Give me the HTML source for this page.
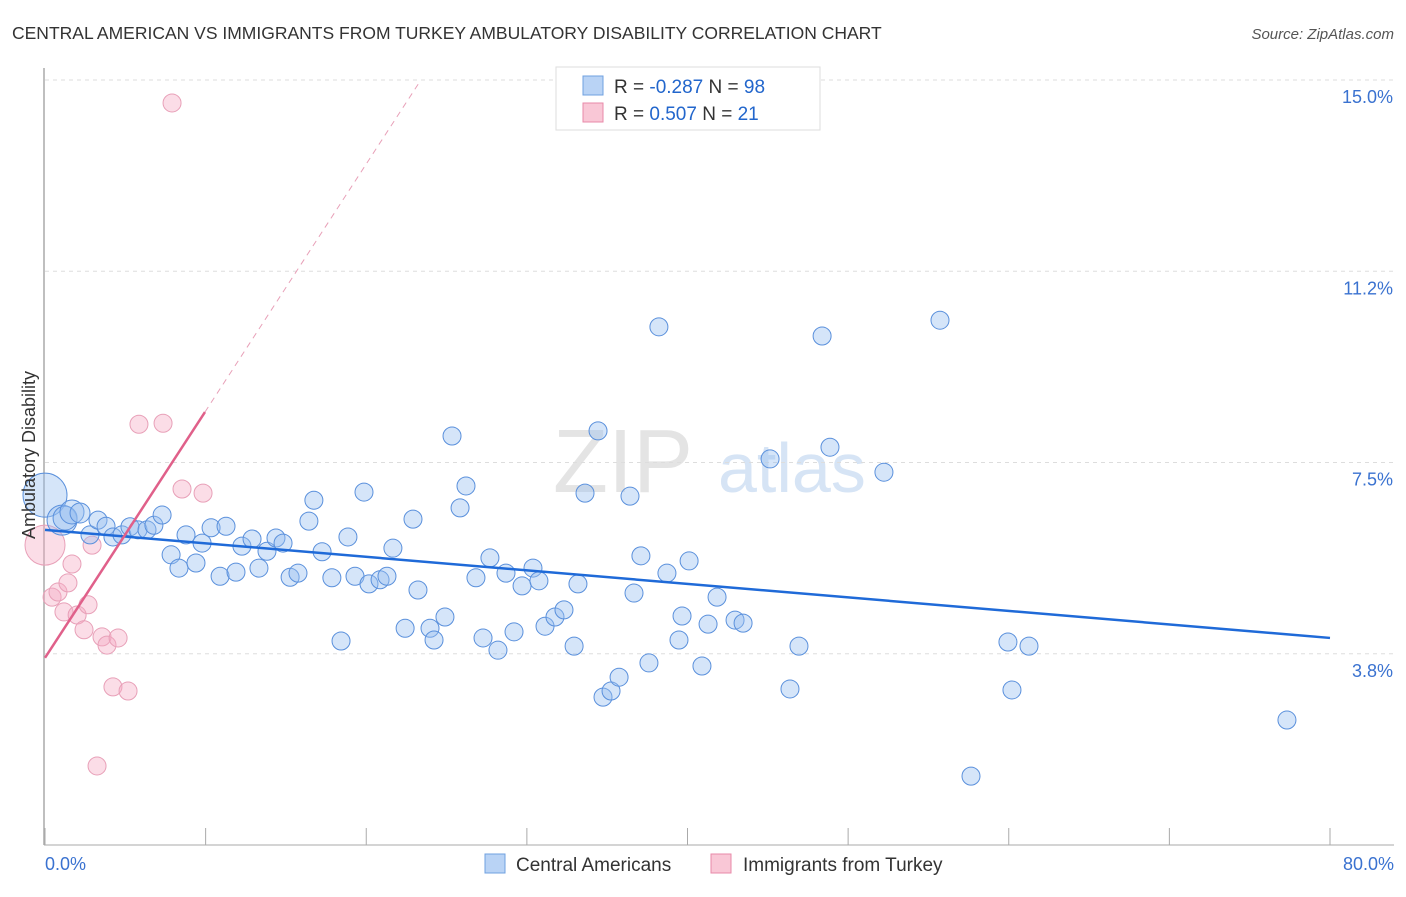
<!DOCTYPE html>
<html><head><meta charset="utf-8"><style>
body{margin:0;background:#fff;font-family:"Liberation Sans",sans-serif;}
svg text{font-family:"Liberation Sans",sans-serif;}
</style></head><body>
<svg id="c" width="1406" height="892">
<text x="12" y="39" font-size="17.5" fill="#333">CENTRAL AMERICAN VS IMMIGRANTS FROM TURKEY AMBULATORY DISABILITY CORRELATION CHART</text>
<text x="1394" y="39" font-size="15" fill="#555" font-style="italic" text-anchor="end">Source: ZipAtlas.com</text>
<g><text x="553" y="492" font-size="90" fill="#e4e4e4" font-family="Liberation Serif">ZIP</text><text x="718" y="492" font-size="70" fill="#d6e4f5">atlas</text></g>
<g id="grid"></g><g id="axes"></g><g id="marks"></g>
<text transform="translate(35,455) rotate(-90)" font-size="18" fill="#333" text-anchor="middle">Ambulatory Disability</text>
<g>
<rect x="556" y="67" width="264" height="63" fill="#fff" stroke="#ddd"/>
<rect x="583" y="76" width="20" height="19" fill="#b9d3f5" stroke="#6fa0e0"/>
<rect x="583" y="103" width="20" height="19" fill="#f9c7d6" stroke="#e88aa8"/>
<text x="614" y="93" font-size="19" fill="#333">R = <tspan fill="#2266cc">-0.287</tspan>   N = <tspan fill="#2266cc">98</tspan></text>
<text x="614" y="120" font-size="19" fill="#333">R =  <tspan fill="#2266cc"> 0.507</tspan>   N =  <tspan fill="#2266cc">21</tspan></text>
</g>
<g>
<rect x="485" y="854" width="20" height="19" fill="#b9d3f5" stroke="#6fa0e0"/>
<text x="516" y="871" font-size="19" fill="#333">Central Americans</text>
<rect x="711" y="854" width="20" height="19" fill="#f9c7d6" stroke="#e88aa8"/>
<text x="743" y="871" font-size="19" fill="#333">Immigrants from Turkey</text>
</g>
</svg>
<script>
const yTicks=[3.75,7.5,11.25,15];
const yTickLabels=["3.8%","7.5%","11.2%","15.0%"];
const xTicks=[0,10,20,30,40,50,60,70,80];
const xTickLabels=["0.0%","80.0%"];
const blueX=[0,1.06,1.25,1.68,2.18,2.8,3.3,3.8,4.23,4.79,5.29,5.79,6.35,6.78,7.29,7.85,8.34,8.78,9.4,9.78,10.34,10.9,11.27,11.89,12.26,12.89,13.32,13.82,14.38,14.82,15.26,15.75,16.43,16.74,17.25,17.86,18.43,18.86,19.3,19.86,20.17,20.86,21.29,21.66,22.42,22.91,23.22,23.97,24.22,24.9,25.34,25.84,26.21,26.83,27.27,27.7,28.2,28.7,29.2,29.7,30.38,30.75,31.13,31.75,32.31,32.94,33.18,33.62,34.43,34.74,35.24,35.74,36.42,36.67,37.1,37.6,38.22,38.72,39.47,39.66,40.1,40.9,41.28,41.84,42.96,43.46,45.14,46.38,46.94,48.38,48.87,52.23,55.72,59.95,60.2,61.26,57.65,77.32];
const blueY=[6.86,6.37,6.41,6.53,6.51,6.08,6.37,6.25,6.04,6.08,6.24,6.18,6.18,6.27,6.47,5.69,5.43,6.08,5.53,5.92,6.22,5.27,6.25,5.35,5.86,6.0,5.43,5.76,6.02,5.92,5.25,5.33,6.35,6.76,5.75,5.24,4.0,6.04,5.27,6.92,5.12,5.2,5.27,5.82,4.25,6.39,5.0,4.25,4.02,4.47,8.02,6.61,7.04,5.24,4.06,5.63,3.82,5.33,4.18,5.08,5.43,5.18,4.29,4.47,4.61,3.9,5.12,6.9,8.12,2.9,3.02,3.29,6.84,4.94,5.67,3.57,10.16,5.33,4.02,4.49,5.57,3.51,4.33,4.86,4.41,4.35,7.57,3.06,3.9,9.98,7.8,7.31,10.29,3.98,3.04,3.9,1.35,2.45];
const blueSize=[22,15,12,12,10];
const pinkX=[0,0.44,0.81,1.18,1.43,1.68,2.0,2.43,2.68,2.93,3.24,3.55,3.86,4.23,4.55,5.17,5.85,7.35,7.91,8.53,9.84];
const pinkY=[5.88,4.86,4.96,4.57,5.14,5.51,4.51,4.22,4.71,5.88,1.55,4.08,3.92,3.1,4.06,3.02,8.25,8.27,14.55,6.98,6.9];
const pinkSize=[20];
const blueTrend=[[0,6.18],[80,4.06]];
const pinkTrend=[[0,3.67],[9.96,8.49]];
const pinkTrendExt=[[9.96,8.49],[23.4,15]];
const NS="http://www.w3.org/2000/svg";
const X=v=>45+v*(1285/80), Y=v=>845-v*51;
function mk(tag,at,par){const e=document.createElementNS(NS,tag);for(const k in at)e.setAttribute(k,at[k]);document.getElementById(par).appendChild(e);return e;}
yTicks.forEach((t,i)=>{
 const g=mk('line',{x1:45,x2:1394,y1:Y(t),y2:Y(t),stroke:'#ddd','stroke-dasharray':'4,4'},'grid');
 
 
 const l=mk('text',{x:1393,y:Y(t)+23,'font-size':18,fill:'#3a72d0','text-anchor':'end'},'axes');l.textContent=yTickLabels[i];
 
 
});
const ax=mk('line',{x1:44,x2:44,y1:68,y2:845,stroke:'#aaa','stroke-width':1.5},'axes');


const bx=mk('line',{x1:44,x2:1394,y1:845,y2:845,stroke:'#aaa','stroke-width':1},'axes');


xTicks.forEach(t=>{const e=mk('line',{x1:X(t),x2:X(t),y1:828,y2:845,stroke:'#aaa'},'axes');
 
 });
[[0,'start',xTickLabels[0]],[80,'end',xTickLabels[1]]].forEach(([v,a,s])=>{const l=mk('text',{x:v==0?45:1394,y:870,'font-size':18,fill:'#3a72d0','text-anchor':a},'axes');l.textContent=s;
 
 });
pinkX.forEach((x,i)=>{const c=mk('circle',{cx:X(x),cy:Y(pinkY[i]),r:pinkSize[i]||9,fill:'rgba(246,170,195,0.4)',stroke:'#e8a0b8','stroke-width':1},'marks');
 
 });
blueX.forEach((x,i)=>{const c=mk('circle',{cx:X(x),cy:Y(blueY[i]),r:blueSize[i]||9,fill:'rgba(150,190,240,0.4)',stroke:'#5a90dc','stroke-width':1},'marks');
 
 });
const bl=mk('line',{x1:X(blueTrend[0][0]),y1:Y(blueTrend[0][1]),x2:X(blueTrend[1][0]),y2:Y(blueTrend[1][1]),stroke:'#1f6ad8','stroke-width':2.5},'marks');


const pl=mk('line',{x1:X(pinkTrend[0][0]),y1:Y(pinkTrend[0][1]),x2:X(pinkTrend[1][0]),y2:Y(pinkTrend[1][1]),stroke:'#e0608a','stroke-width':2.5},'marks');


const pd=mk('line',{x1:X(pinkTrendExt[0][0]),y1:Y(pinkTrendExt[0][1]),x2:X(pinkTrendExt[1][0]),y2:Y(pinkTrendExt[1][1]),stroke:'#e8a0b8','stroke-width':1,'stroke-dasharray':'6,5'},'marks');


</script>
</body></html>
